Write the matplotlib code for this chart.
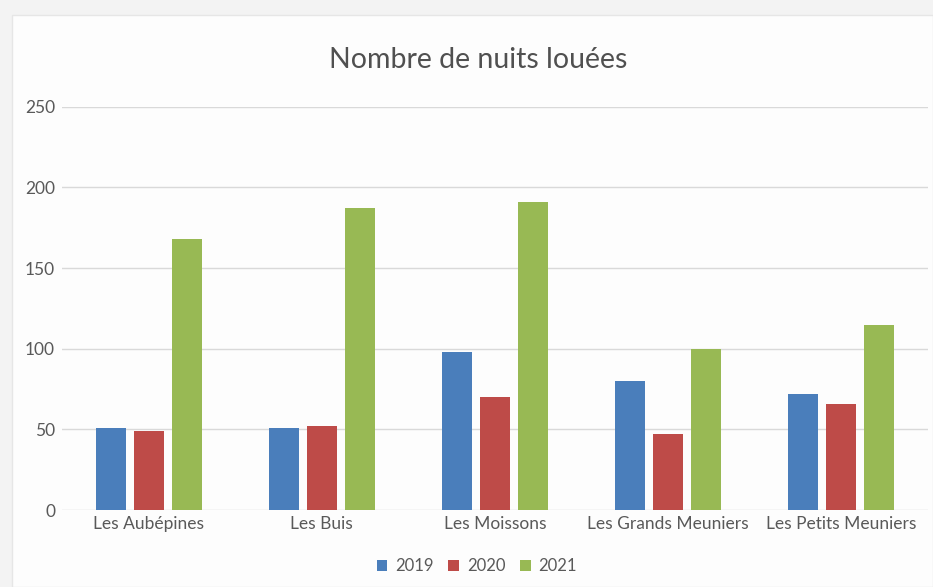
import numpy as np
import matplotlib.pyplot as plt
from matplotlib.patches import Rectangle

plt.rcParams['font.family'] = ['Lato', 'DejaVu Sans']

categories = ["Les Aubépines", "Les Buis", "Les Moissons", "Les Grands Meuniers", "Les Petits Meuniers"]
years = ["2019", "2020", "2021"]
v2019 = [51, 51, 98, 80, 72]
v2020 = [49, 52, 70, 47, 66]
v2021 = [168, 187, 191, 100, 115]
colors = ["#4a7ebb", "#be4b48", "#98b954"]

fig = plt.figure(figsize=(9.33, 5.87), dpi=100)
fig.patch.set_facecolor("#f3f3f3")
card = Rectangle((0.013, 0.0), 0.987, 0.975, transform=fig.transFigure,
                 facecolor="#fdfdfd", edgecolor="#e6e6e6", linewidth=1.0, zorder=-10)
fig.add_artist(card)

ax = fig.add_axes([0.0665, 0.131, 0.928, 0.687])
ax.set_facecolor("none")

x = np.arange(len(categories))
w = 0.173
step = 0.22
for i, (vals, c, lab) in enumerate(zip([v2019, v2020, v2021], colors, years)):
    ax.bar(x + (i - 1) * step, vals, width=w, color=c, label=lab, zorder=3)

ax.set_ylim(0, 250)
ax.set_xlim(-0.5, len(categories) - 0.5)
ax.set_yticks(range(0, 251, 50))
ax.yaxis.grid(True, color="#d9d9d9", linewidth=1.0, zorder=0)
for s in ax.spines.values():
    s.set_visible(False)
ax.tick_params(axis="both", length=0, labelsize=12.5, labelcolor="#595959", pad=4)
ax.tick_params(axis="y", pad=5)
ax.set_xticks(x)
ax.set_xticklabels(categories)

fig.text(0.513, 0.898, "Nombre de nuits louées", ha="center", va="center",
         fontsize=20.5, color="#505050")

ax.legend(loc="center", bbox_to_anchor=(0.479, -0.139), ncol=3, frameon=False,
          fontsize=12, labelcolor="#595959", handlelength=0.65, handleheight=0.65,
          handletextpad=0.45, columnspacing=0.9)

fig.savefig("out.png", dpi=100, facecolor=fig.get_facecolor())
